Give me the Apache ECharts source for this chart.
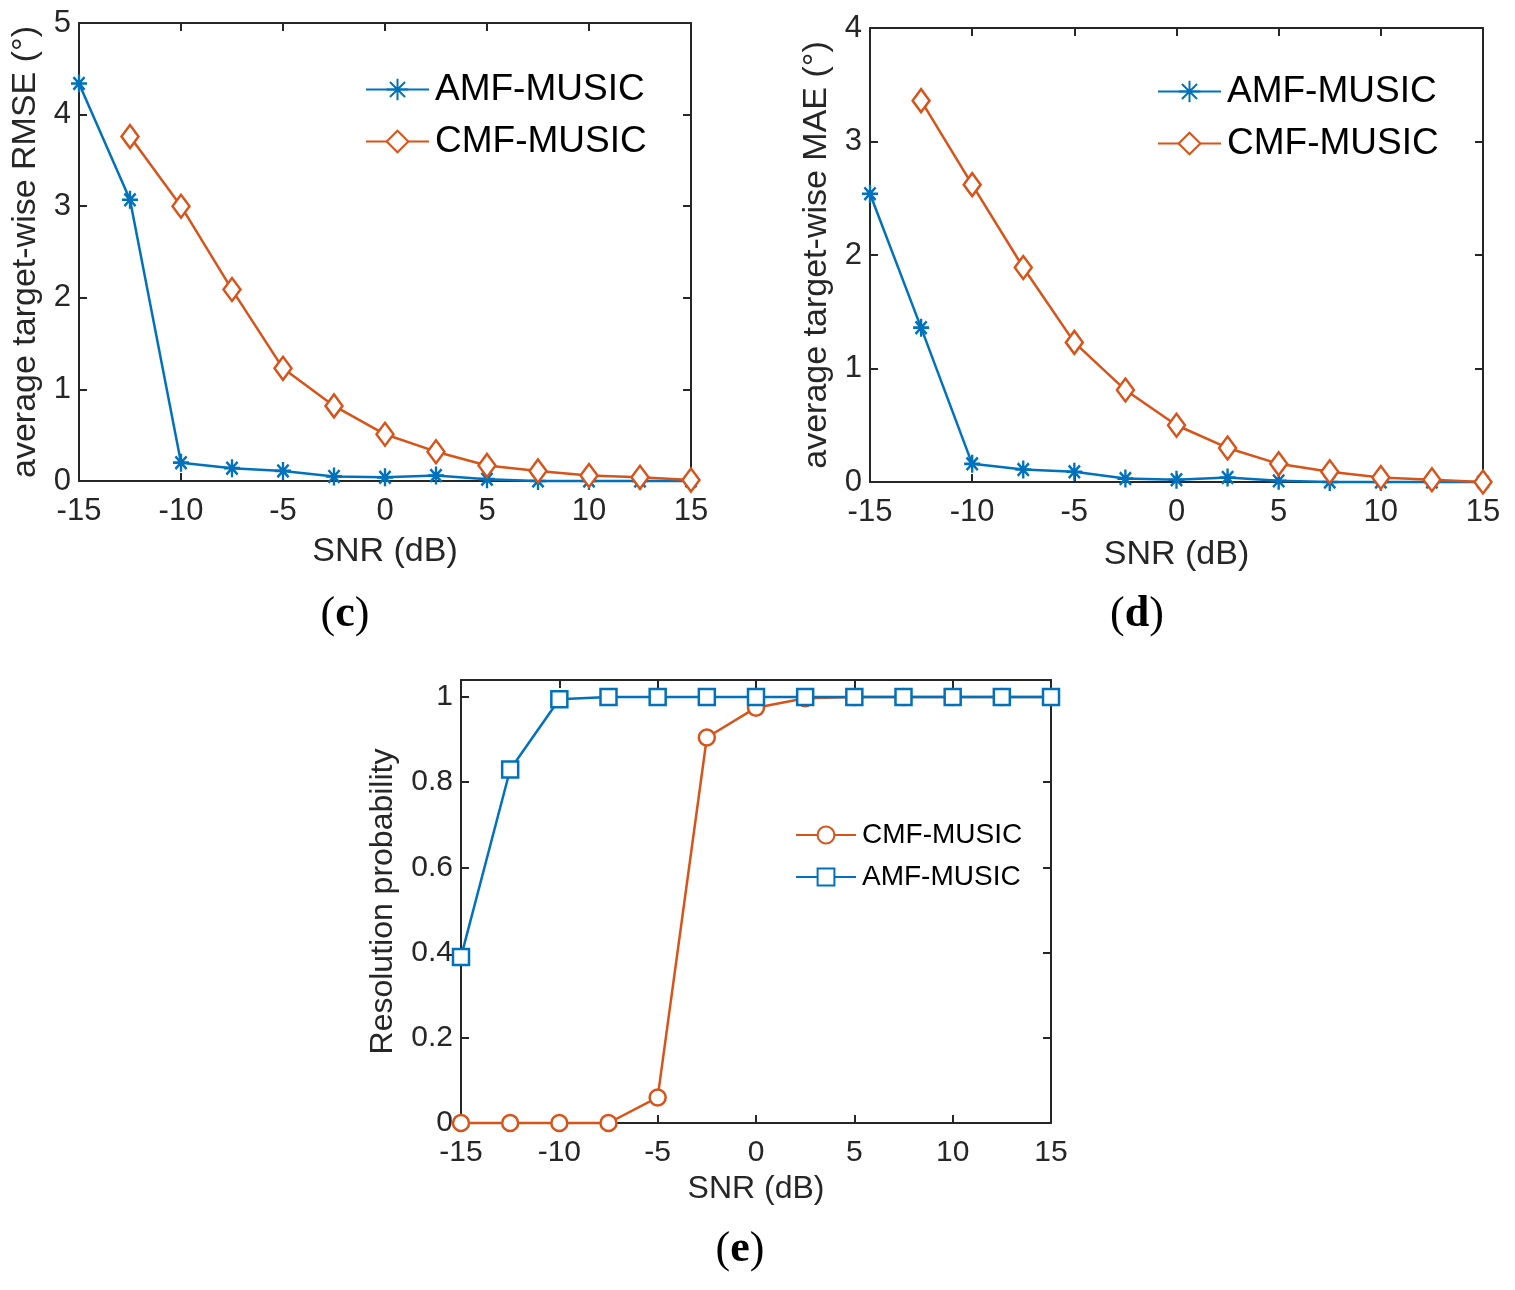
<!DOCTYPE html>
<html>
<head>
<meta charset="utf-8">
<script src="https://cdn.jsdelivr.net/npm/echarts@6.0.0/dist/echarts.min.js"></script>
<style>
html, body { margin: 0; padding: 0; background: #fff; }
#page { position: relative; width: 1515px; height: 1290px; }
.panel { position: absolute; }
#chart_c { left: 0; top: 0; width: 757px; height: 650px; }
#chart_d { left: 757px; top: 0; width: 758px; height: 650px; }
#chart_e { left: 0; top: 650px; width: 1515px; height: 640px; }
</style>
</head>
<body>
<div id="page">
  <div id="chart_c" class="panel"></div>
  <div id="chart_d" class="panel"></div>
  <div id="chart_e" class="panel"></div>
</div>
<script>
'use strict';

///// data /////

// SNR (dB), shared by all three panels
const snr = [-15, -12.5, -10, -7.5, -5, -2.5, 0, 2.5, 5, 7.5, 10, 12.5, 15];

// (c) average target-wise RMSE
const rmseAmf = [4.34, 3.07, 0.20, 0.14, 0.11, 0.05, 0.04, 0.06, 0.02, 0, 0, 0, 0];
const rmseCmf = [null, 3.76, 3.00, 2.09, 1.23, 0.82, 0.51, 0.32, 0.17, 0.11, 0.06, 0.04, 0.01];

// (d) average target-wise MAE
const maeAmf = [2.54, 1.36, 0.16, 0.11, 0.09, 0.03, 0.02, 0.04, 0.01, 0, 0, 0, 0];
const maeCmf = [null, 3.36, 2.62, 1.89, 1.23, 0.81, 0.50, 0.30, 0.16, 0.09, 0.04, 0.02, 0.0];

// (e) resolution probability
const probCmf = [0, 0, 0, 0, 0.06, 0.905, 0.975, 0.997, 1, 1, 1, 1, 1];
const probAmf = [0.39, 0.83, 0.995, 1, 1, 1, 1, 1, 1, 1, 1, 1, 1];

const probTicks = [0, 0.2, 0.4, 0.6, 0.8, 1];

///// styles /////

const FONT = '"Liberation Sans", Arial, Helvetica, sans-serif';
const SERIF = '"Liberation Serif", "DejaVu Serif", serif';
const INK = '#262626';
const BLUE = '#0072BD';
const ORANGE = '#D95319';

// matlab '*' marker (plus + cross)
const ASTERISK = 'path://M10,0L10,20M0,10L20,10M3,3L17,17M3,17L17,3';

const pairs = (ys) => snr.map((x, i) => [x, ys[i]]);

const lineSeries = (name, ys, color, symbol, size, filled) => ({
  name: name,
  type: 'line',
  data: pairs(ys),
  clip: false,
  symbol: symbol,
  symbolSize: size,
  showAllSymbol: true,
  lineStyle: { color: color, width: 2.5 },
  itemStyle: { color: filled ? color : '#fff', borderColor: color, borderWidth: 2.5 },
  emphasis: { disabled: true }
});

const axisLine = { show: true, onZero: false, lineStyle: { color: INK, width: 2 } };
const axisTick = { show: true, inside: true, length: 8, lineStyle: { color: INK, width: 2 } };

const caption = (letter, x, y) => ({
  type: 'text',
  x: x,
  y: y,
  style: {
    text: '{p|(}{b|' + letter + '}{p|)}',
    align: 'center',
    verticalAlign: 'middle',
    rich: {
      p: { fontFamily: SERIF, fontSize: 44, fill: '#000' },
      b: { fontFamily: SERIF, fontSize: 44, fontWeight: 'bold', fill: '#000' }
    }
  }
});

const panel = (o) => {
  const xCommon = { type: 'value', min: -15, max: 15, interval: 5, splitLine: { show: false }, axisLine: axisLine, axisTick: axisTick };
  const yCommon = Object.assign({ type: 'value', min: 0, max: o.yMax, splitLine: { show: false }, axisLine: axisLine, axisTick: axisTick }, o.yExtra);
  return {
    animation: false,
    grid: { left: o.grid[0], top: o.grid[1], width: o.grid[2], height: o.grid[3], containLabel: false },
    legend: {
      orient: 'vertical',
      left: o.legend[0],
      top: o.legend[1],
      itemWidth: o.legendItem[0],
      itemHeight: o.legendItem[1],
      itemGap: o.legendGap,
      selectedMode: false,
      data: o.legendOrder,
      textStyle: { fontFamily: FONT, fontSize: o.legendSize, lineHeight: o.legendSize, color: '#000', padding: [0, 0, 0, o.legendPad] }
    },
    xAxis: [
      Object.assign({}, xCommon, {
        position: 'bottom',
        name: 'SNR (dB)',
        nameLocation: 'middle',
        nameGap: o.xNameGap,
        nameTextStyle: { fontFamily: FONT, fontSize: o.titleSize, color: INK },
        axisLabel: { fontFamily: FONT, fontSize: o.tickSize, color: INK, margin: o.xLabelMargin }
      }),
      Object.assign({}, xCommon, { position: 'top', axisLabel: { show: false } })
    ],
    yAxis: [
      Object.assign({}, yCommon, {
        position: 'left',
        name: o.yName,
        nameLocation: 'middle',
        nameGap: o.yNameGap,
        nameTextStyle: { fontFamily: FONT, fontSize: o.titleSize, color: INK },
        axisLabel: Object.assign({ fontFamily: FONT, fontSize: o.tickSize, color: INK, margin: 8 }, o.yLabelExtra)
      }),
      Object.assign({}, yCommon, { position: 'right', axisLabel: { show: false } })
    ],
    series: o.series,
    graphic: [o.caption]
  };
};

///// (c) /////

const chartC = echarts.init(document.getElementById('chart_c'), null, { renderer: 'canvas' });
chartC.setOption(panel({
  grid: [79, 23, 612, 458],
  yMax: 5,
  yExtra: { interval: 1 },
  yName: 'average target-wise RMSE (°)',
  yNameGap: 28,
  xNameGap: 54,
  xLabelMargin: 15,
  titleSize: 34,
  tickSize: 31,
  legend: [360, 66],
  legendItem: [63, 27],
  legendGap: 15,
  legendSize: 37,
  legendPad: 1,
  legendOrder: ['AMF-MUSIC', 'CMF-MUSIC'],
  series: [
    lineSeries('AMF-MUSIC', rmseAmf, BLUE, ASTERISK, [16, 18], true),
    lineSeries('CMF-MUSIC', rmseCmf, ORANGE, 'diamond', [17, 23], false)
  ],
  caption: caption('c', 345, 615)
}));

///// (d) /////

const chartD = echarts.init(document.getElementById('chart_d'), null, { renderer: 'canvas' });
chartD.setOption(panel({
  grid: [113, 28, 613, 454],
  yMax: 4,
  yExtra: { interval: 1 },
  yName: 'average target-wise MAE (°)',
  yNameGap: 28,
  xNameGap: 56,
  xLabelMargin: 15,
  titleSize: 34,
  tickSize: 31,
  legend: [395, 68],
  legendItem: [63, 27],
  legendGap: 15,
  legendSize: 37,
  legendPad: 1,
  legendOrder: ['AMF-MUSIC', 'CMF-MUSIC'],
  series: [
    lineSeries('AMF-MUSIC', maeAmf, BLUE, ASTERISK, [16, 18], true),
    lineSeries('CMF-MUSIC', maeCmf, ORANGE, 'diamond', [17, 23], false)
  ],
  caption: caption('d', 380, 615)
}));

///// (e) /////

const chartE = echarts.init(document.getElementById('chart_e'), null, { renderer: 'canvas' });
chartE.setOption(panel({
  grid: [461, 30, 590, 443],
  yMax: 1.04,
  yExtra: {},
  yLabelExtra: { customValues: probTicks },
  yName: 'Resolution probability',
  yNameGap: 62,
  xNameGap: 50,
  xLabelMargin: 15,
  titleSize: 32,
  tickSize: 30,
  legend: [790, 166],
  legendItem: [60, 21],
  legendGap: 14,
  legendSize: 28,
  legendPad: 1,
  legendOrder: ['CMF-MUSIC', 'AMF-MUSIC'],
  series: [
    lineSeries('CMF-MUSIC', probCmf, ORANGE, 'circle', 16, false),
    lineSeries('AMF-MUSIC', probAmf, BLUE, 'rect', 16, false)
  ],
  caption: caption('e', 740, 1250 - 650)
}));

// ticks for (e) follow the labels
chartE.setOption({
  yAxis: [
    { axisTick: Object.assign({}, axisTick, { customValues: probTicks }) },
    { axisTick: Object.assign({}, axisTick, { customValues: probTicks }) }
  ]
});
</script>
</body>
</html>
